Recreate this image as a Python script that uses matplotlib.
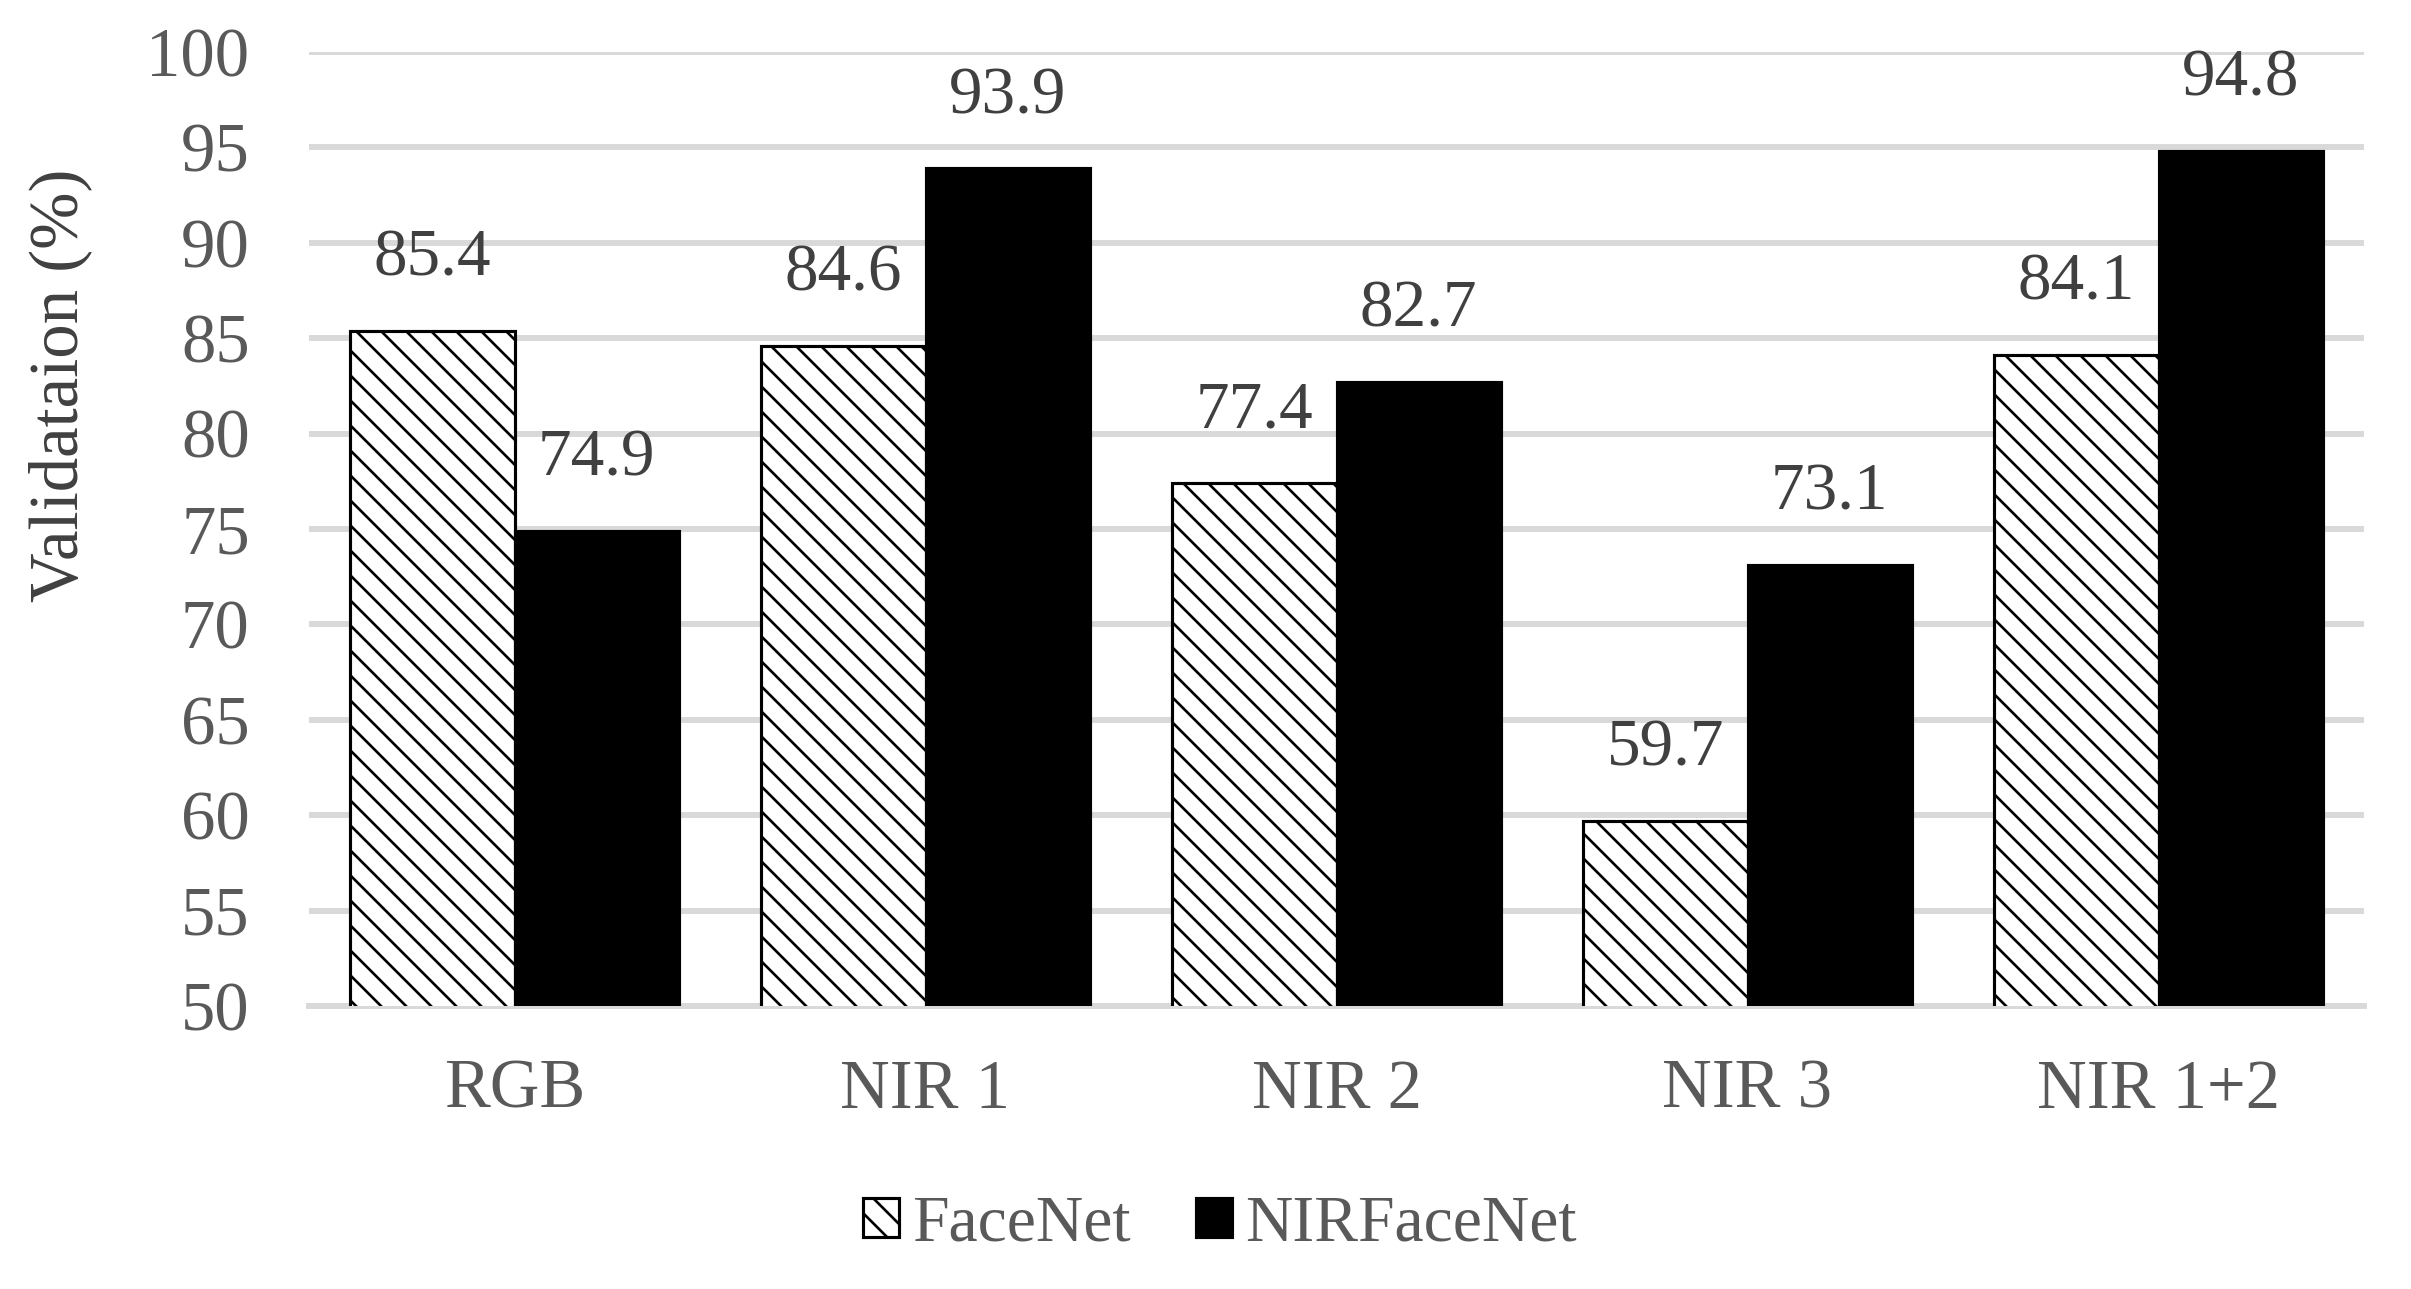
import numpy as np
import matplotlib
matplotlib.use('Agg')
import matplotlib.pyplot as plt

# 数据
categories = ['RGB', 'NIR 1', 'NIR 2', 'NIR 3', 'NIR 1+2']
facenet = [85.4, 84.6, 77.4, 59.7, 84.1]
nirfacenet = [74.9, 93.9, 82.7, 73.1, 94.8]
series_names = ['FaceNet', 'NIRFaceNet']
yticks = [50, 55, 60, 65, 70, 75, 80, 85, 90, 95, 100]

plt.rcParams['font.family'] = ['Liberation Serif', 'DejaVu Serif']
plt.rcParams['hatch.linewidth'] = 0.85
plt.rcParams['hatch.color'] = 'black'

fig = plt.figure(figsize=(2411 / 225, 1289 / 225), dpi=225)
ax = fig.add_axes([309 / 2411, 1 - 1006 / 1289, (2364 - 309) / 2411, (1006 - 52) / 1289])

x = np.arange(len(categories))
w = 0.4
b1 = ax.bar(x - w / 2, facenet, w, color='white', edgecolor='black', linewidth=1.0,
            hatch='\\\\\\', label=series_names[0], zorder=3)
b2 = ax.bar(x + w / 2, nirfacenet, w, color='black', edgecolor='black', linewidth=1.0,
            label=series_names[1], zorder=3)

# 数值标签
for bars, vals in [(b1, facenet), (b2, nirfacenet)]:
    for rect, v in zip(bars, vals):
        ax.annotate('%.1f' % v, (rect.get_x() + rect.get_width() / 2, v),
                    xytext=(0, 23), textcoords='offset points',
                    ha='center', va='center', fontsize=21.5, color='#404040', zorder=4)

ax.set_xlim(-0.5, len(categories) - 0.5)
ax.set_ylim(50, 100)
ax.set_yticks(yticks)
ax.set_xticks(x)
ax.set_xticklabels(categories)
ax.tick_params(axis='y', length=0, pad=19, labelsize=22, labelcolor='#595959')
ax.tick_params(axis='x', length=0, pad=17, labelsize=22, labelcolor='#595959')
ax.yaxis.grid(True, color='#d9d9d9', linewidth=1.9, zorder=0)
ax.set_axisbelow(True)
for s in ['top', 'right', 'left']:
    ax.spines[s].set_visible(False)
ax.spines['bottom'].set_color('#d9d9d9')
ax.spines['bottom'].set_linewidth(1.9)
ax.spines['bottom'].set_zorder(2)

ax.set_ylabel('Validataion (%)', fontsize=22, color='#404040')
ax.yaxis.set_label_coords((92 - 309) / (2364 - 309), 0.651)

leg = fig.legend(loc='center', bbox_to_anchor=(0.506, 0.05), ncol=2, frameon=False,
                 fontsize=21, handlelength=0.54, handleheight=0.54,
                 handletextpad=0.2, columnspacing=1.0)
for t in leg.get_texts():
    t.set_color('#595959')

plt.savefig('out.png', dpi=225)
plt.close()
